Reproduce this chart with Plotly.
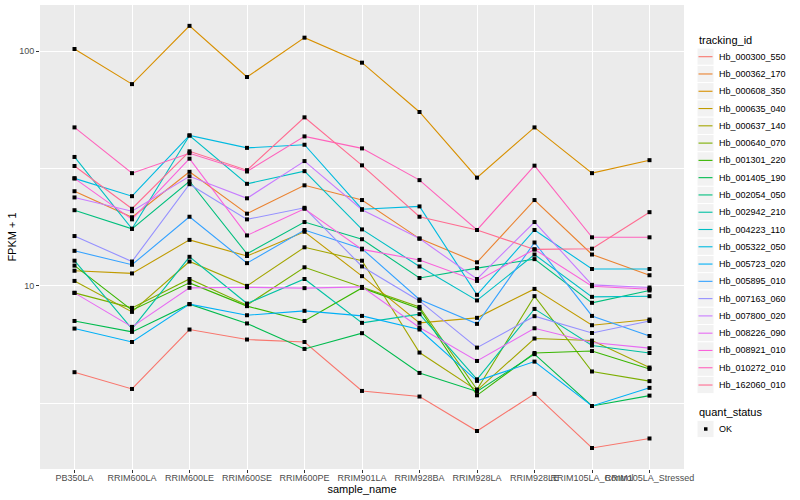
import plotly.graph_objects as go

samples = ["PB350LA", "RRIM600LA", "RRIM600LE", "RRIM600SE", "RRIM600PE", "RRIM901LA",
           "RRIM928BA", "RRIM928LA", "RRIM928LE", "RRIM105LA_Control", "RRIM105LA_Stressed"]

tracking_ids = ["Hb_000300_550", "Hb_000362_170", "Hb_000608_350", "Hb_000635_040",
                "Hb_000637_140", "Hb_000640_070", "Hb_001301_220", "Hb_001405_190",
                "Hb_002054_050", "Hb_002942_210", "Hb_004223_110", "Hb_005322_050",
                "Hb_005723_020", "Hb_005895_010", "Hb_007163_060", "Hb_007800_020",
                "Hb_008226_090", "Hb_008921_010", "Hb_010272_010", "Hb_162060_010"]

colors = ["#F8766D", "#EA8331", "#D89000", "#C09B00", "#A3A500", "#7CAE00", "#39B600",
          "#00BB4E", "#00BF7D", "#00C1A3", "#00BFC4", "#00BAE0", "#00B0F6", "#35A2FF",
          "#9590FF", "#C77CFF", "#E76BF3", "#FA62DB", "#FF62BC", "#FF6C91"]

# FPKM + 1 per sample, one list per tracking_id
Hb_000300_550 = [4.29, 3.64, 6.52, 5.91, 5.77, 3.57, 3.38, 2.41, 3.47, 2.04, 2.24]
Hb_000362_170 = [25.3, 19.6, 30.6, 20.3, 26.8, 23.2, 15.9, 12.6, 23.2, 13.6, 11.1]
Hb_000608_350 = [102, 72.3, 128, 77.5, 114, 89.2, 55.0, 28.9, 47.3, 30.2, 34.3]
Hb_000635_040 = [11.6, 11.3, 15.7, 13.4, 17.0, 11.0, 6.96, 7.31, 9.71, 6.80, 7.19]
Hb_000637_140 = [10.5, 7.75, 12.7, 10.0, 14.6, 12.8, 5.20, 3.59, 5.97, 5.85, 4.49]
Hb_000640_070 = [9.34, 8.06, 10.7, 8.28, 12.0, 9.87, 8.14, 3.62, 9.04, 4.32, 3.93]
Hb_001301_220 = [12.2, 7.88, 10.3, 8.2, 7.09, 9.8, 8.0, 3.42, 5.18, 5.28, 4.43]
Hb_001405_190 = [7.09, 6.37, 8.36, 6.92, 5.39, 6.29, 4.26, 3.55, 5.12, 3.08, 3.41]
Hb_002054_050 = [21.0, 17.5, 27.9, 13.7, 18.7, 15.8, 10.8, 11.9, 13.0, 8.47, 9.56]
Hb_002942_210 = [12.8, 6.56, 13.3, 8.41, 10.7, 6.96, 7.58, 4.00, 7.98, 5.57, 5.18]
Hb_004223_110 = [35.4, 17.5, 43.7, 27.2, 30.8, 17.4, 12.1, 8.67, 13.6, 8.98, 9.04]
Hb_005322_050 = [28.7, 24.1, 43.7, 38.7, 39.9, 21.2, 21.8, 9.16, 17.3, 11.8, 11.8]
Hb_005723_020 = [6.58, 5.77, 8.36, 7.50, 7.83, 7.45, 6.52, 3.94, 4.76, 3.08, 3.68]
Hb_005895_010 = [14.1, 12.3, 19.7, 12.5, 17.3, 14.4, 8.75, 6.89, 15.3, 7.45, 6.12]
Hb_007163_060 = [16.3, 12.7, 27.1, 19.2, 21.5, 12.1, 8.63, 5.46, 7.43, 6.30, 7.09]
Hb_007800_020 = [23.8, 20.8, 29.3, 23.6, 34.0, 21.1, 15.9, 10.7, 18.7, 10.1, 9.84]
Hb_008226_090 = [9.34, 6.69, 9.81, 9.87, 9.78, 9.90, 6.65, 4.79, 6.60, 5.74, 5.43]
Hb_008921_010 = [28.7, 19.2, 34.8, 16.4, 21.3, 14.3, 12.9, 10.5, 14.3, 9.97, 9.68]
Hb_010272_010 = [47.3, 30.2, 36.7, 30.7, 43.3, 38.5, 28.2, 17.3, 32.5, 16.1, 16.1]
Hb_162060_010 = [32.4, 21.3, 37.4, 31.1, 52.2, 32.6, 19.7, 17.3, 14.3, 14.4, 20.6]

series = [Hb_000300_550, Hb_000362_170, Hb_000608_350, Hb_000635_040, Hb_000637_140,
          Hb_000640_070, Hb_001301_220, Hb_001405_190, Hb_002054_050, Hb_002942_210,
          Hb_004223_110, Hb_005322_050, Hb_005723_020, Hb_005895_010, Hb_007163_060,
          Hb_007800_020, Hb_008226_090, Hb_008921_010, Hb_010272_010, Hb_162060_010]

quant_status = "OK"

FONT = "Liberation Sans, Arial, Helvetica, sans-serif"

# ---- layout geometry (pixels) ----
W, H = 800, 500
ML, MR, MT, MB = 40, 116, 5, 31
PW, PH = W - ML - MR, H - MT - MB


def px(x):
    return (x - ML) / PW


def py(y):
    return (H - MB - y) / PH


fig = go.Figure()

for name, vals, col in zip(tracking_ids, series, colors):
    fig.add_trace(go.Scatter(
        x=samples, y=vals, mode="lines", name=name,
        line=dict(color=col, width=1.1),
        showlegend=False,
    ))

pts_x, pts_y = [], []
for vals in series:
    pts_x.extend(samples)
    pts_y.extend(vals)

fig.add_trace(go.Scatter(
    x=pts_x, y=pts_y, mode="markers", name=quant_status,
    marker=dict(color="black", size=4, symbol="square"),
    showlegend=False,
))

# ---- manual ggplot-style legend ----
shapes = []
annotations = []
key_l, key_r = 697, 714
txt_x = 717
first_y, step = 56.7, 17.28

annotations.append(dict(
    x=px(key_l), y=py(40.5), xref="paper", yref="paper", text="tracking_id",
    showarrow=False, xanchor="left", yanchor="middle",
    font=dict(size=11, color="black", family=FONT),
))
for i, (name, col) in enumerate(zip(tracking_ids, colors)):
    cy = first_y + i * step
    shapes.append(dict(
        type="rect", xref="paper", yref="paper",
        x0=px(key_l), x1=px(key_r), y0=py(cy - step / 2), y1=py(cy + step / 2),
        fillcolor="#F2F2F2", line=dict(color="white", width=1), layer="above",
    ))
    shapes.append(dict(
        type="line", xref="paper", yref="paper",
        x0=px(key_l + 1.5), x1=px(key_r - 1.5), y0=py(cy), y1=py(cy),
        line=dict(color=col, width=1.1), layer="above",
    ))
    annotations.append(dict(
        x=px(txt_x), y=py(cy), xref="paper", yref="paper", text=name,
        showarrow=False, xanchor="left", yanchor="middle",
        font=dict(size=9, color="black", family=FONT),
    ))

annotations.append(dict(
    x=px(key_l), y=py(412.3), xref="paper", yref="paper", text="quant_status",
    showarrow=False, xanchor="left", yanchor="middle",
    font=dict(size=11, color="black", family=FONT),
))
ok_y = 429
shapes.append(dict(
    type="rect", xref="paper", yref="paper",
    x0=px(key_l), x1=px(key_r), y0=py(ok_y - step / 2), y1=py(ok_y + step / 2),
    fillcolor="#F2F2F2", line=dict(color="white", width=1), layer="above",
))
shapes.append(dict(
    type="rect", xref="paper", yref="paper",
    x0=px(704), x1=px(707.5), y0=py(ok_y - 1.75), y1=py(ok_y + 1.75),
    fillcolor="black", line=dict(width=0), layer="above",
))
annotations.append(dict(
    x=px(txt_x), y=py(ok_y), xref="paper", yref="paper", text=quant_status,
    showarrow=False, xanchor="left", yanchor="middle",
    font=dict(size=9, color="black", family=FONT),
))

fig.update_layout(
    width=W, height=H,
    margin=dict(l=ML, r=MR, t=MT, b=MB, autoexpand=False),
    paper_bgcolor="white",
    plot_bgcolor="#EBEBEB",
    font=dict(family=FONT, size=11, color="black"),
    showlegend=False,
    shapes=shapes,
    annotations=annotations,
)

fig.update_xaxes(
    type="category",
    categoryorder="array", categoryarray=samples,
    range=[-0.6, 10.6],
    automargin=False,
    showgrid=True, gridcolor="white", gridwidth=1.3,
    zeroline=False, showline=False,
    ticks="outside", ticklen=3, tickcolor="#333333",
    tickangle=0,
    ticklabelstandoff=-3,
    tickfont=dict(size=9, color="#4D4D4D", family=FONT),
    title=dict(text="sample_name", font=dict(size=11, color="black"), standoff=0),
)

fig.update_yaxes(
    type="log",
    range=[0.2203, 2.196],
    automargin=False,
    tickvals=[10, 100], ticktext=["10", "100"],
    showgrid=True, gridcolor="white", gridwidth=1.3,
    minor=dict(tickvals=[3.1623, 31.623], showgrid=True, gridcolor="white", gridwidth=0.6, ticks=""),
    zeroline=False, showline=False,
    ticks="outside", ticklen=3, tickcolor="#333333",
    tickfont=dict(size=9, color="#4D4D4D", family=FONT),
    title=dict(text="FPKM + 1", font=dict(size=11, color="black"), standoff=0),
)

fig.write_html(
    "out.html",
    config={"displayModeBar": False},
    post_script="document.body.style.margin='0';document.body.style.overflow='hidden';",
)
